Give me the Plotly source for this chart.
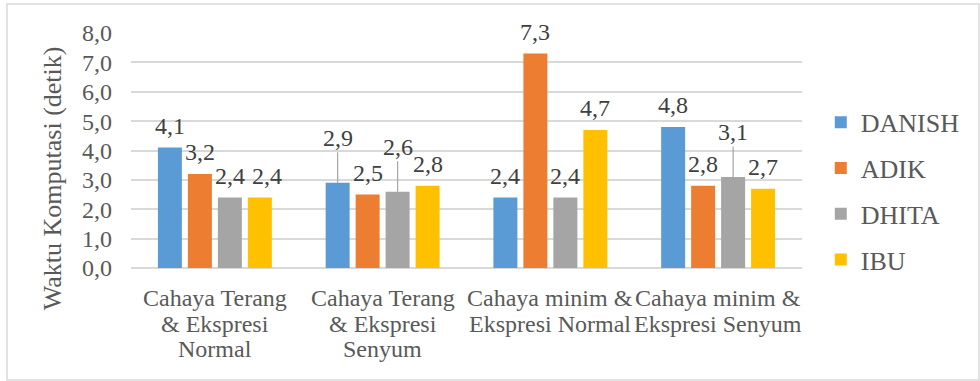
import plotly.graph_objects as go

# Waktu komputasi (detik) per kondisi dan per subjek
categories = [
    ["Cahaya Terang", "& Ekspresi", "Normal"],
    ["Cahaya Terang", "& Ekspresi", "Senyum"],
    ["Cahaya minim &", "Ekspresi Normal"],
    ["Cahaya minim &", "Ekspresi Senyum"],
]
series_names = ["DANISH", "ADIK", "DHITA", "IBU"]
danish = [4.1, 2.9, 2.4, 4.8]
adik = [3.2, 2.5, 7.3, 2.8]
dhita = [2.4, 2.6, 2.4, 3.1]
ibu = [2.4, 2.8, 4.7, 2.7]
y_ticks = [0, 1, 2, 3, 4, 5, 6, 7, 8]

# labels lifted higher and tied back to the bar with a leader line: (series index, category index)
leader_labels = {(0, 1), (2, 1), (2, 3)}
# labels nudged sideways (px) so neighbouring labels do not collide
label_nudge = {(3, 0): 7}

series_values = [danish, adik, dhita, ibu]
colors = ["#5B9BD5", "#ED7D31", "#A5A5A5", "#FFC000"]
FONT = "Liberation Serif"
BARGAP = 0.285
BARGROUPGAP = 0.2

xs = list(range(len(categories)))

fig = go.Figure()
for name, vals, col in zip(series_names, series_values, colors):
    fig.add_trace(go.Bar(
        x=xs, y=vals, name=name, legendgroup=name,
        marker=dict(color=col, line=dict(width=0)),
        hoverinfo="skip",
    ))

def fmt(v):
    return f"{v:.1f}".replace(".", ",")

annotations = []
slot = (1 - BARGAP) / len(series_names)
for j, vals in enumerate(series_values):
    for i, v in enumerate(vals):
        xc = i + (j - (len(series_names) - 1) / 2) * slot
        if (j, i) in leader_labels:
            annotations.append(dict(
                x=xc, y=v, xref="x", yref="y", text=fmt(v),
                showarrow=True, arrowhead=0, arrowwidth=1.2, arrowcolor="#a6a6a6",
                ax=0, ay=-45, standoff=0,
                font=dict(family=FONT, size=24, color="#404040"),
            ))
        else:
            annotations.append(dict(
                x=xc, y=v, xref="x", yref="y", text=fmt(v),
                showarrow=False, yanchor="middle", yshift=22,
                xshift=label_nudge.get((j, i), 0),
                font=dict(family=FONT, size=24, color="#404040"),
            ))

# category labels, one line at a time for tight line spacing
for i, lines in enumerate(categories):
    for k, line in enumerate(lines):
        annotations.append(dict(
            x=i, y=0, xref="x", yref="y", text=line, showarrow=False,
            yanchor="middle", yshift=-30 - 25.5 * k,
            font=dict(family=FONT, size=24, color="#595959"),
        ))

# rotated y-axis title
annotations.append(dict(
    x=-0.116, y=0.383, xref="paper", yref="paper",
    text="Waktu Komputasi (detik)", textangle=-90, showarrow=False,
    xanchor="center", yanchor="middle",
    font=dict(family=FONT, size=26, color="#595959"),
))

fig.update_layout(
    template="none",
    width=980, height=381,
    margin=dict(l=131, r=178, t=33, b=113),
    paper_bgcolor="white", plot_bgcolor="white",
    font=dict(family=FONT, size=24, color="#595959"),
    barmode="group", bargap=BARGAP, bargroupgap=BARGROUPGAP,
    separators=",.",
    showlegend=True,
    legend=dict(
        x=1.028, y=0.72, xanchor="left", yanchor="top",
        traceorder="grouped", tracegroupgap=9,
        font=dict(family=FONT, size=26, color="#595959"),
        bgcolor="rgba(0,0,0,0)",
    ),
    annotations=annotations,
    shapes=[dict(
        type="rect", xref="paper", yref="paper",
        x0=(7 - 131) / 671, x1=(979 - 131) / 671,
        y0=(268 - 380) / 235, y1=(268 - 4) / 235,
        line=dict(color="#d9d9d9", width=1.5), fillcolor="rgba(0,0,0,0)",
        layer="below",
    )],
)
fig.update_xaxes(
    range=[-0.5, len(categories) - 0.5], showticklabels=False,
    showgrid=False, zeroline=False, showline=False, ticks="",
    fixedrange=True,
)
fig.update_yaxes(
    range=[0, 8], tickvals=y_ticks, tickformat=".1f",
    showgrid=True, gridcolor="#d9d9d9", gridwidth=2,
    zeroline=True, zerolinecolor="#d9d9d9", zerolinewidth=2,
    showline=False, ticks="", ticklabelstandoff=18,
    tickfont=dict(family=FONT, size=24, color="#595959"),
    fixedrange=True,
)

fig.write_html("out.html")
